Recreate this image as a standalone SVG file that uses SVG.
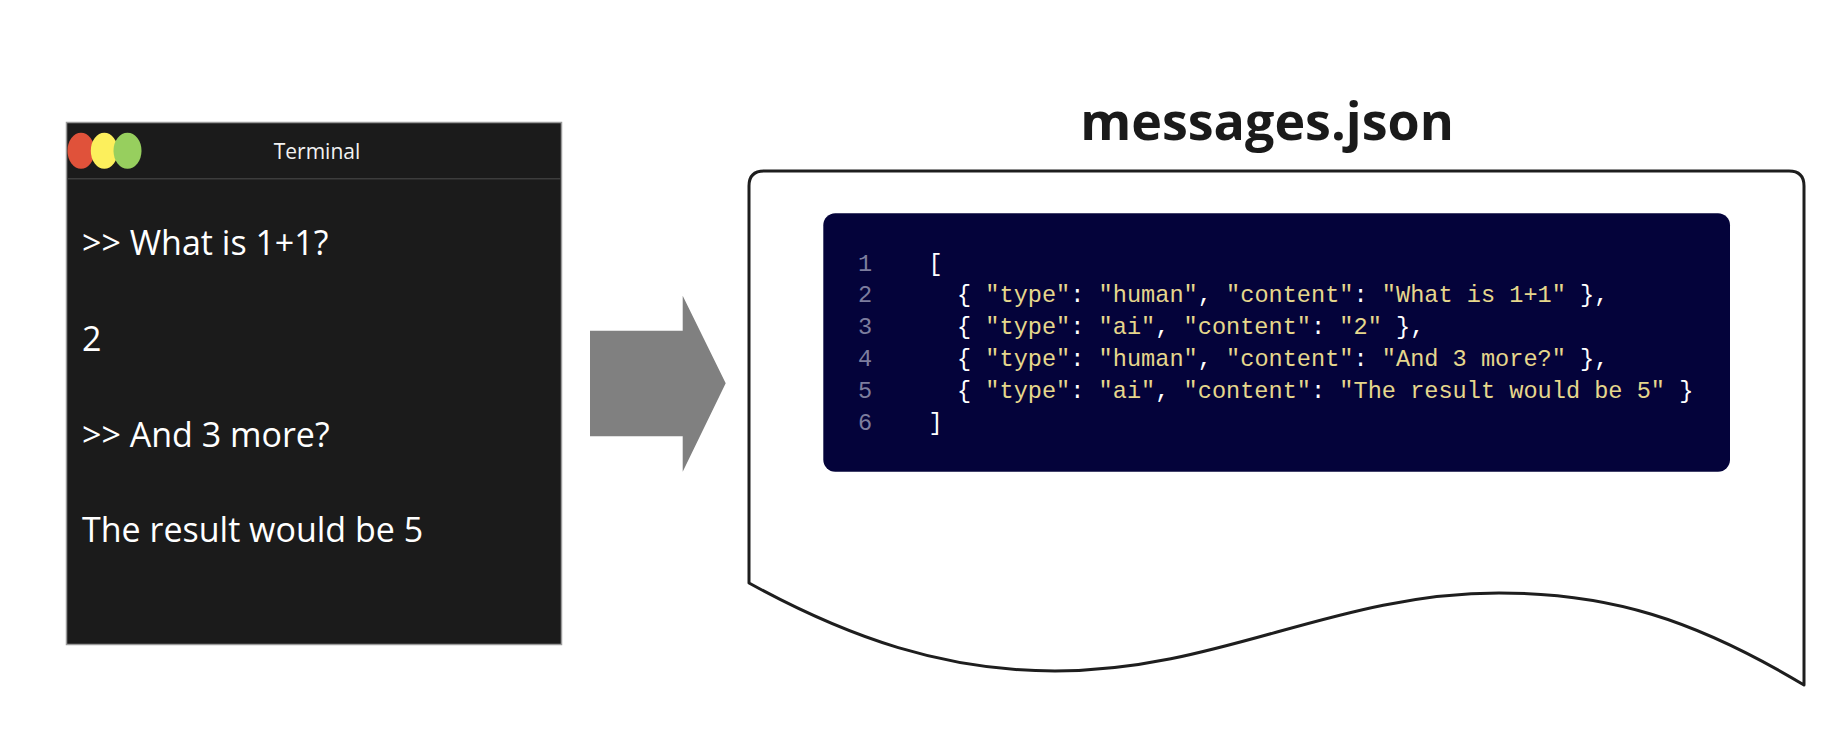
<svg xmlns="http://www.w3.org/2000/svg" width="1836" height="746" viewBox="0 0 1836 746">
  <style>
    .term { font-family: "Open Sans", "Liberation Sans", sans-serif; fill: #ffffff; font-size: 34px; }
    .termtitle { font-family: "Open Sans", "Liberation Sans", sans-serif; fill: #f2f2f2; font-size: 21px; }
    .title { font-family: "Open Sans", "Liberation Sans", sans-serif; font-weight: bold; fill: #1a1a1a; font-size: 52px; }
    .code { font-family: "Liberation Mono", "DejaVu Sans Mono", monospace; font-size: 23.6px; white-space: pre; }
    .ln { fill: #7d7d9e; }
    .p { fill: #ffffff; }
    .s { fill: #e6d78c; }
  </style>
  <rect width="1836" height="746" fill="#ffffff"/>

  <g id="terminal">
    <rect x="66.5" y="122.5" width="495" height="522" fill="#1b1b1b" stroke="#9a9a9a" stroke-width="1.5"/>
    <line x1="67" y1="178.7" x2="561" y2="178.7" stroke="#3d3d3d" stroke-width="1.5"/>
    <ellipse cx="81" cy="150.7" rx="13.5" ry="18" fill="#e0523a"/>
    <ellipse cx="104.3" cy="150.7" rx="13.5" ry="18" fill="#fcef5c"/>
    <ellipse cx="127.5" cy="150.7" rx="14" ry="18" fill="#97cf5e"/>
    <text class="termtitle" x="317" y="159.3" text-anchor="middle">Terminal</text>
    <text class="term" x="82" y="255">&gt;&gt; What is 1+1?</text>
    <text class="term" x="82" y="350.5">2</text>
    <text class="term" x="82" y="446.5">&gt;&gt; And 3 more?</text>
    <text class="term" x="82" y="542.3">The result would be 5</text>
  </g>

  <g id="connectors">
    <polygon points="590,330.7 682.7,330.7 682.7,295.7 725.7,383.3 682.7,471.7 682.7,436.3 590,436.3" fill="#808080"/>
  </g>

  <g id="messages-json">
    <text class="title" x="1267" y="140" text-anchor="middle">messages.json</text>
    <path d="M749,186 Q749,171 764,171 L1789,171 Q1804,171 1804,186 L1804,685 C1694,619 1609,593 1499,593 C1334,593 1220,671 1055,671 C945,671 849,638 749,583 Z" fill="#ffffff" stroke="#1e1e1e" stroke-width="3" stroke-linejoin="round"/>
    <rect x="823.3" y="213.3" width="906.7" height="258.4" rx="12" ry="12" fill="#04033a"/>
    <g class="code">
      <text class="ln" x="858" y="270.6">1</text>
      <text class="ln" x="858" y="302.4">2</text>
      <text class="ln" x="858" y="334.2">3</text>
      <text class="ln" x="858" y="366">4</text>
      <text class="ln" x="858" y="397.8">5</text>
      <text class="ln" x="858" y="429.6">6</text>
      <text class="p" x="928.5" y="270.6">[</text>
      <text x="957" y="302.4"><tspan class="p">{ </tspan><tspan class="s">"type"</tspan><tspan class="p">: </tspan><tspan class="s">"human"</tspan><tspan class="p">, </tspan><tspan class="s">"content"</tspan><tspan class="p">: </tspan><tspan class="s">"What is 1+1"</tspan><tspan class="p"> },</tspan></text>
      <text x="957" y="334.2"><tspan class="p">{ </tspan><tspan class="s">"type"</tspan><tspan class="p">: </tspan><tspan class="s">"ai"</tspan><tspan class="p">, </tspan><tspan class="s">"content"</tspan><tspan class="p">: </tspan><tspan class="s">"2"</tspan><tspan class="p"> },</tspan></text>
      <text x="957" y="366"><tspan class="p">{ </tspan><tspan class="s">"type"</tspan><tspan class="p">: </tspan><tspan class="s">"human"</tspan><tspan class="p">, </tspan><tspan class="s">"content"</tspan><tspan class="p">: </tspan><tspan class="s">"And 3 more?"</tspan><tspan class="p"> },</tspan></text>
      <text x="957" y="397.8"><tspan class="p">{ </tspan><tspan class="s">"type"</tspan><tspan class="p">: </tspan><tspan class="s">"ai"</tspan><tspan class="p">, </tspan><tspan class="s">"content"</tspan><tspan class="p">: </tspan><tspan class="s">"The result would be 5"</tspan><tspan class="p"> }</tspan></text>
      <text class="p" x="928.5" y="429.6">]</text>
    </g>
  </g>
</svg>
